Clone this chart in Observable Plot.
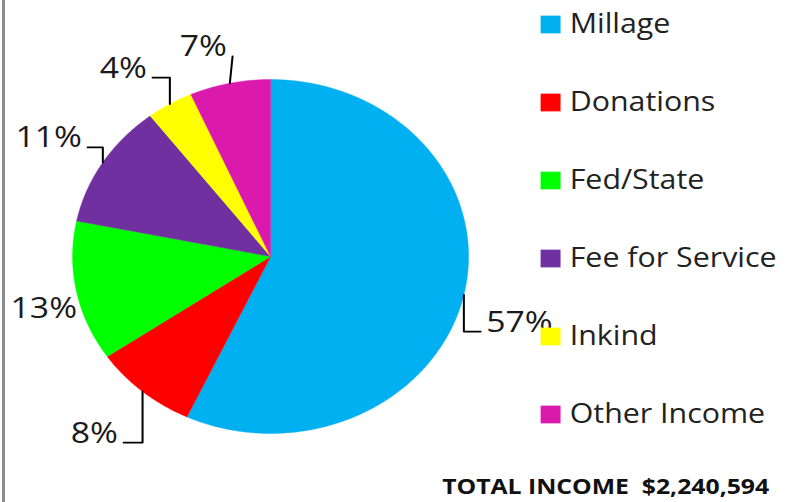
<!DOCTYPE html>
<html>
<head>
<meta charset="utf-8">
<script src="https://cdn.jsdelivr.net/npm/d3@7"></script>
<script src="https://cdn.jsdelivr.net/npm/@observablehq/plot@0.6"></script>
<style>
  html, body { margin: 0; padding: 0; background: white; }
  #wrap { position: relative; width: 790px; height: 502px; overflow: hidden; background: white; }
  #border { position: absolute; left: 2px; top: 0; width: 3px; height: 502px; background: #8c8c8c; }
  #stretch { position: absolute; left: 0; top: 0; width: 702px; height: 502px; transform: scaleX(1.125); transform-origin: 0 0; }
  #pie { position: absolute; left: 0; top: 0; }
  #legend { position: absolute; left: 480px; top: 0; }
  #total { position: absolute; left: 393px; top: 473.5px; font: bold 22px "Open Sans", sans-serif; line-height: 1; color: #111; white-space: pre; }
</style>
</head>
<body>
<div id="wrap">
  <div id="border"></div>
  <div id="stretch">
    <div id="pie"></div>
    <div id="legend"></div>
    <div id="total"></div>
  </div>
</div>
<script>
// ---- data ----
const categories = ["Millage", "Donations", "Fed/State", "Fee for Service", "Inkind", "Other Income"];
const shares = [57.0, 8.5, 12.8, 11.4, 3.8, 6.6]; // percent of total income
const colors = ["#00B0F0", "#FF0000", "#00FF00", "#7030A0", "#FFFF00", "#DC19AD"];
const totalLabel = "TOTAL INCOME  $2,240,594";

// ---- label layout (in pie units, radius = 1) ----
const labelPoints = [[1.061, -0.424], [-0.742, -1.051], [-0.949, -0.345], [-0.924, 0.616], [-0.596, 1.011], [-0.192, 1.130]];
const leaderKinds = ["elbow", "elbow", "none", "elbow", "elbow", "straight"];

// ---- derived geometry ----
const sum = d3.sum(shares);
let acc = 0;
const slices = categories.map((name, i) => {
  const a0 = acc / sum * 2 * Math.PI;
  acc += shares[i];
  const a1 = acc / sum * 2 * Math.PI;
  return {name, a0, a1, mid: (a0 + a1) / 2, pct: Math.round(shares[i] / sum * 100) + "%"};
});

const piePts = slices.flatMap(s => {
  const n = Math.max(2, Math.ceil((s.a1 - s.a0) / (Math.PI / 360)));
  const pts = [{name: s.name, x: 0, y: 0}];
  for (let k = 0; k <= n; k++) {
    const a = s.a0 + (s.a1 - s.a0) * k / n;
    pts.push({name: s.name, x: Math.sin(a), y: Math.cos(a)});
  }
  pts.push({name: s.name, x: 0, y: 0});
  return pts;
});

const leaders = slices.flatMap((s, i) => {
  const kind = leaderKinds[i];
  if (kind === "none") return [];
  const p = {x: Math.sin(s.mid), y: Math.cos(s.mid)};
  const [lx, ly] = labelPoints[i];
  const pts = [p];
  if (kind === "elbow") pts.push({x: p.x, y: ly});
  pts.push({x: lx, y: ly});
  return pts.map(q => ({...q, name: s.name}));
});

const labels = slices.map((s, i) => ({name: s.name, text: s.pct, x: labelPoints[i][0], y: labelPoints[i][1]}));

const colorScale = {type: "ordinal", domain: categories, range: colors};

const pie = Plot.plot({
  width: 702,
  height: 502,
  margin: 0,
  style: {fontFamily: "'Open Sans', sans-serif", background: "transparent", overflow: "visible"},
  x: {domain: [-1, 1], range: [64, 416], axis: null},
  y: {domain: [-1, 1], range: [433, 79], axis: null},
  color: colorScale,
  marks: [
    Plot.line(piePts, {x: "x", y: "y", z: "name", fill: "name", stroke: "name", strokeWidth: 0.4, curve: "linear"}),
    Plot.line(leaders, {x: "x", y: "y", z: "name", stroke: "#000", strokeWidth: 1.8, curve: "linear"}),
    Plot.text(labels.filter(d => d.x > 0), {x: "x", y: "y", text: "text", textAnchor: "start", lineAnchor: "bottom", dx: 5, fontSize: 30, fill: "#1a1a1a"}),
    Plot.text(labels.filter(d => d.x <= 0), {x: "x", y: "y", text: "text", textAnchor: "end", lineAnchor: "bottom", dx: -5, fontSize: 30, fill: "#1a1a1a"})
  ]
});
document.getElementById("pie").appendChild(pie);

const legend = Plot.plot({
  width: 222,
  height: 440,
  margin: 0,
  style: {fontFamily: "'Open Sans', sans-serif", background: "transparent", overflow: "visible"},
  x: {domain: [0, 1], range: [8.9, 100], axis: null},
  y: {type: "point", domain: categories, range: [22, 415.5], padding: 0, axis: null},
  color: colorScale,
  marks: [
    Plot.dot(categories, {x: () => 0, y: d => d, fill: d => d, symbol: "square", r: 10, stroke: null}),
    Plot.text(categories, {x: () => 0, y: d => d, text: d => d, dx: 17, textAnchor: "start", lineAnchor: "middle", fontSize: 27, fill: "#222"})
  ]
});
document.getElementById("legend").appendChild(legend);

document.getElementById("total").textContent = totalLabel;
</script>
</body>
</html>
